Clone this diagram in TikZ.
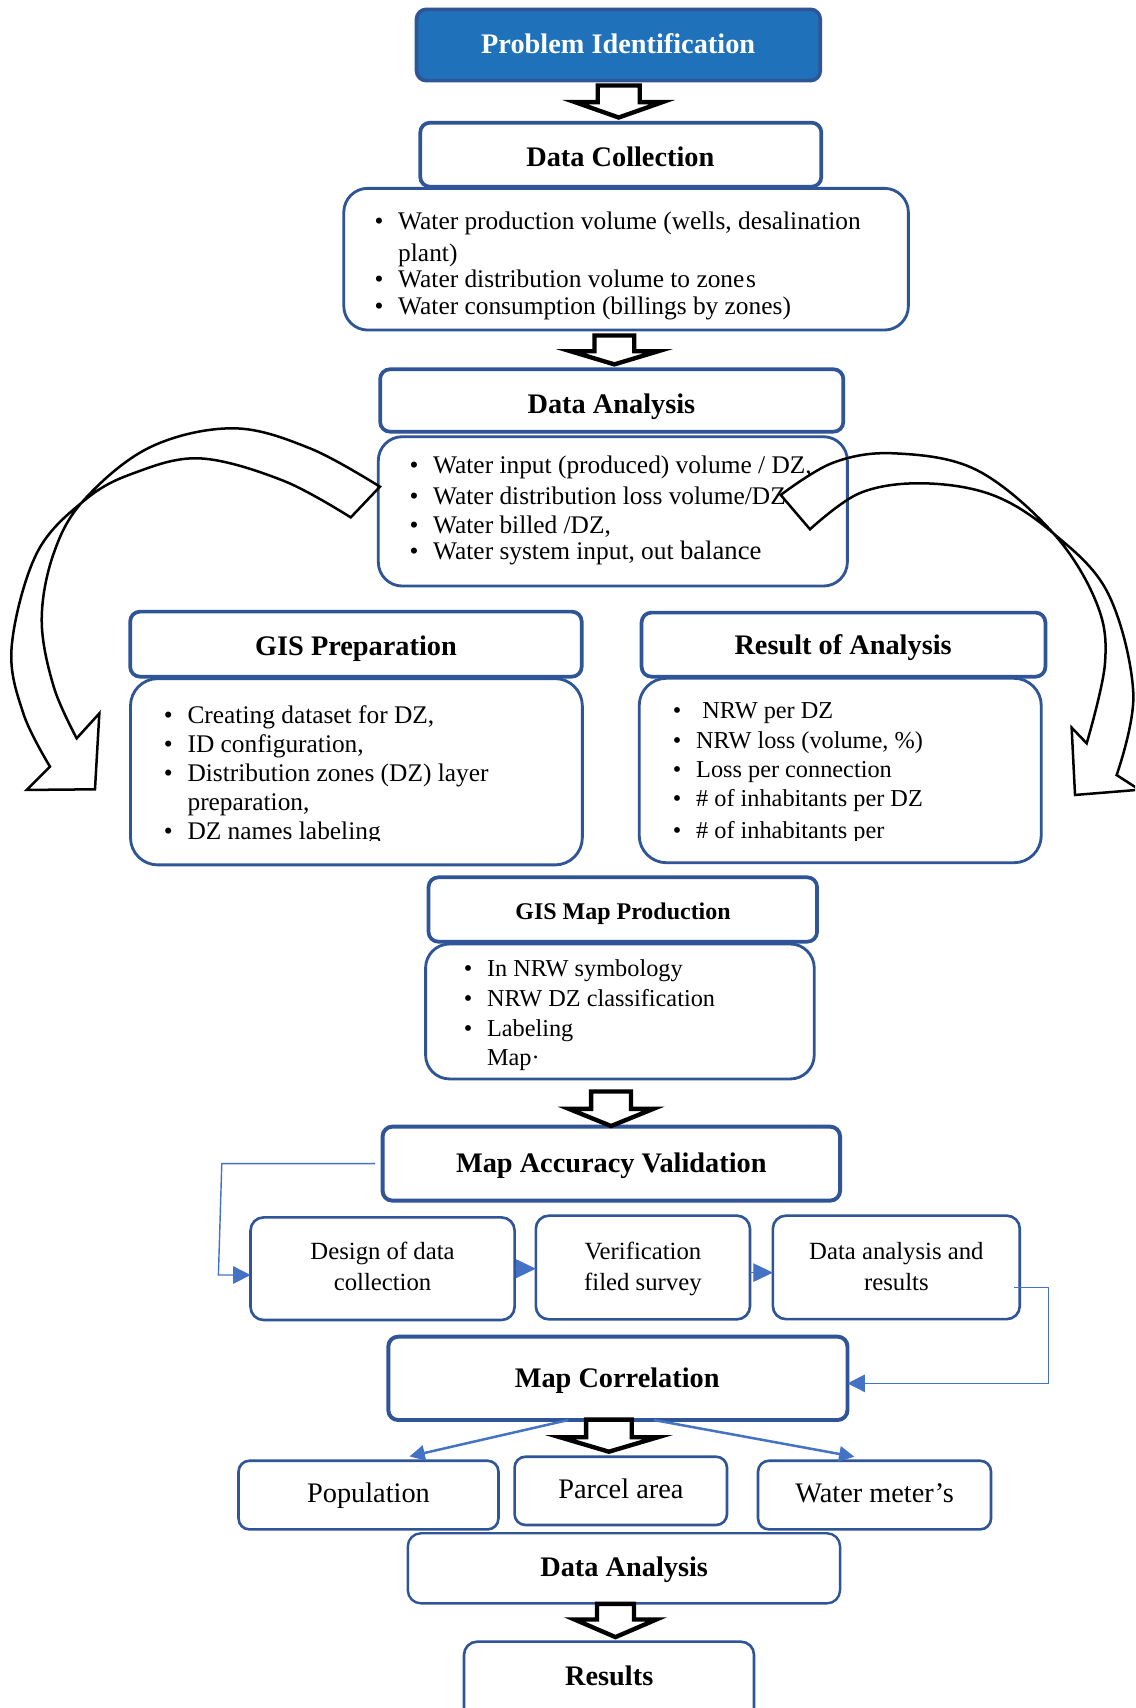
\documentclass[tikz,border=0pt]{standalone}
\usepackage{fontspec}
\setmainfont{Liberation Serif}
\usetikzlibrary{arrows.meta}
\definecolor{bdr}{HTML}{2F5597}
\definecolor{pifill}{HTML}{1F72B9}
\definecolor{conn}{HTML}{4472C4}
\newcommand\fsz[1]{\fontsize{#1}{#1}\selectfont}
\newcommand\bl{\llap{\textbullet\hspace{13.5pt}}}
\newcommand\bx[6]{\node[#6, minimum width={(#4)-(#2)}, minimum height={(#5)-(#3)}] (#1) at ({((#2)+(#4))/2},{((#3)+(#5))/2}) {};}
\newcommand\barrow[8]{%
  \path (#3,0 |- #1.south) ++(0,#4) coordinate (bt);
  \path (#3,0 |- #2.north) ++(0,#5) coordinate (bp);
  \path (bp) ++(0,-#6) coordinate (bh);
  \draw[blk] (bp) -- ([xshift=#8pt]bh) -- ([xshift=#7pt]bh) -- ([xshift=#7pt]bt) -- ([xshift=-#7pt]bt) -- ([xshift=-#7pt]bh) -- ([xshift=-#8pt]bh) -- cycle;}
\begin{document}
\begin{tikzpicture}[x=1pt,y=-1pt,
  hdrbox/.style={draw=bdr, line width=3.4pt, rounded corners=9pt, fill=white, inner sep=0pt, outer sep=0pt},
  cntbox/.style={draw=bdr, line width=2.6pt, rounded corners=22pt, fill=white, inner sep=0pt, outer sep=0pt},
  lowbox/.style={draw=bdr, line width=2.4pt, rounded corners=12pt, fill=white, inner sep=0pt, outer sep=0pt},
  blk/.style={draw=black, line width=4pt, line join=miter, fill=white},
  curv/.style={draw=black, line width=2.3pt, line join=miter},
  tl/.style={anchor=base west, inner sep=0pt, outer sep=0pt},
  tc/.style={anchor=base, inner sep=0pt, outer sep=0pt},
  hf/.style={font=\fsz{26}\bfseries},
  connline/.style={draw=conn, line width=1.3pt, -{Triangle[length=16pt,width=16pt]}},
  connthick/.style={draw=conn, line width=2.3pt, -{Triangle[length=14pt,width=14pt]}},
]
\path[use as bounding box] (0,0) rectangle (1042,1568);
\clip (0,0) rectangle (1042,1568);
\fill[white] (0,0) rectangle (1042,1568);

% ---------- boxes ----------
\bx{pi}{382.4}{8.6}{753}{74}{hdrbox, fill=pifill}
\bx{dcc}{315.6}{172.9}{833.9}{303}{cntbox}
\bx{dc}{385.8}{112.6}{754}{171.4}{hdrbox}
\bx{dac}{347.3}{400.9}{777.9}{538}{cntbox}
\bx{da}{349}{339}{774.2}{396.3}{hdrbox}
\bx{gpc}{119.8}{623}{534.6}{794}{cntbox, rounded corners=25pt}
\bx{gp}{119.5}{561.5}{534}{621.2}{hdrbox}
\bx{rac}{586.8}{622.7}{955.9}{792}{cntbox, rounded corners=25pt}
\bx{ra}{589}{562.4}{959.7}{621.2}{hdrbox}
\bx{gmc}{390.7}{866.6}{747.5}{990.5}{cntbox}
\bx{gm}{393.4}{805.4}{750.1}{864.5}{hdrbox}
\bx{mav}{351.2}{1034.3}{771.2}{1102.2}{hdrbox, line width=3.6pt}
\bx{d1}{230}{1117.6}{472.4}{1211.8}{lowbox}
\bx{d2}{491.9}{1116}{688.5}{1211.2}{lowbox}
\bx{d3}{709.5}{1116}{936.2}{1211}{lowbox}
\bx{mc}{356.5}{1227.1}{778}{1303.6}{hdrbox, line width=3.6pt}
\bx{pop}{219}{1341}{457.6}{1404}{lowbox, rounded corners=10pt}
\bx{pa}{472.4}{1337.3}{667.4}{1400}{lowbox, rounded corners=10pt}
\bx{wm}{695.9}{1341}{909.8}{1404}{lowbox, rounded corners=10pt}
\bx{dab}{374.4}{1407.6}{771.2}{1471.9}{lowbox, line width=2.2pt}
\bx{res}{426}{1507.1}{692.2}{1600}{lowbox}

% ---------- header texts ----------
\node[tc, hf, text=white] (tpi) at (567.5,49) {Problem Identification};
\node[tc, hf] (tdc) at (569.5,153) {Data Collection};
\node[tc, hf] (tda) at (561.3,379.4) {Data Analysis};
\node[tc, hf] (tgp) at (326.8,602.2) {GIS Preparation};
\node[tc, hf] (tra) at (774,601.3) {Result of Analysis};
\node[tc, font=\fsz{22}\bfseries] (tgm) at (572,844) {GIS Map Production};
\node[tc, hf] (tmav) at (561.2,1076.5) {Map Accuracy Validation};
\node[tc, hf] (tmc) at (566.6,1273.8) {Map Correlation};
\node[tc, hf] (tdab) at (573,1447.6) {Data Analysis};
\node[tc, hf] (tres) at (559.3,1547) {Results};

% ---------- bullet texts ----------
\begin{scope}[every node/.style={tl, font=\fsz{23.3}}]
\node (dc1) at (365.6,211) {\bl Water production volume (wells, desalination};
\node (dc2) at (365.6,240) {plant)};
\node (dc3) at (365.6,263.8) {\bl Water distribution volume to zone\hspace{1.5pt}s};
\node (dc4) at (365.6,288.3) {\bl Water consumption (billings by zones)};
\node (da1) at (397.7,435) {\bl Water input (produced) volume / DZ,};
\node (da2) at (397.7,463) {\bl Water distribution loss volume/DZ};
\node (da3) at (397.7,489.5) {\bl Water billed /DZ,};
\node (da4) at (397.7,514) {\bl Water system input, out {\fsz{24.5}balance}};
\node (gp1) at (172.2,664) {\bl Creating dataset for DZ,};
\node (gp2) at (172.2,690.5) {\bl ID configuration,};
\node (gp3) at (172.2,717) {\bl Distribution zones (DZ) layer};
\node (gp4) at (172.2,743.6) {preparation,};
\end{scope}
\begin{scope}
\clip (100,600) rectangle (1000,772);
\node[tl, font=\fsz{23.3}] (gp5) at (172.2,770.5) {\bl DZ names labeling};
\node[tl, font=\fsz{22.3}] (ra5) at (639.1,769.6) {\bl \# of inhabitants per};
\end{scope}
\begin{scope}[every node/.style={tl, font=\fsz{22.3}}]
\node (ra1) at (639.1,659.5) {\bl\hspace{5.7pt}NRW per DZ};
\node (ra2) at (639.1,687) {\bl NRW loss (volume, \%)};
\node (ra3) at (639.1,713.6) {\bl Loss per connection};
\node (ra4) at (639.1,740.5) {\bl \# of inhabitants per DZ};
\node (gm1) at (447.1,896.6) {\bl In NRW symbology};
\node (gm2) at (447.1,924.1) {\bl NRW DZ classification};
\node (gm3) at (447.1,951.7) {\bl Labeling};
\node (gm4) at (447.1,978) {Map·};
\end{scope}

% ---------- lower texts ----------
\begin{scope}[every node/.style={tc, font=\fsz{22.7}}]
\node (d1a) at (351.2,1155.8) {Design of data};
\node (d1b) at (351.2,1184.3) {collection};
\node (d2a) at (590.2,1156.5) {Verification};
\node (d2b) at (590.2,1184.3) {filed survey};
\node (d3a) at (822.9,1156.5) {Data analysis and};
\node (d3b) at (822.9,1184.3) {results};
\end{scope}
\begin{scope}[every node/.style={tc, font=\fsz{26}}]
\node (tpop) at (338.3,1379.5) {Population};
\node (tpa) at (570,1376.1) {Parcel area};
\node (twm) at (802.9,1379.5) {Water meter’s};
\end{scope}

% ---------- block arrows ----------
\barrow{pi}{dc}{568}{4.5}{-4.7}{14.1}{19.3}{40}
\barrow{dcc}{da}{564}{5}{-4.5}{12}{18.2}{40}
\barrow{gmc}{mav}{561}{11.5}{-0.6}{15.7}{18.3}{38.7}
\barrow{mc}{pa}{559}{-0.4}{-4.6}{13.3}{20.9}{45}
\barrow{dab}{res}{565}{0.5}{-4.2}{16.1}{17}{37.4}

% ---------- blue connectors ----------
\draw[connline] ([xshift=-7pt]mav.west) -- (203.6,1068.25) -- (200.5,1170.5) -- ([yshift=-5.8pt]d1.west);
\draw[connline, -{Triangle[length=18pt,width=17pt]}] (d1.east) -- (d1.east -| d2.west);
\draw[connline, -{Triangle[length=18pt,width=17pt]}] ([yshift=-4.7pt]d2.east) -- ([yshift=-4.7pt]d2.east -| d3.west);
\draw[connline] ([xshift=-5pt,yshift=-18.3pt]d3.east) -- ++(31.3,0) |- ([yshift=-4.6pt]mc.east);
\draw[connthick] ([xshift=-45.5pt]mc.south) -- ([xshift=37.7pt,yshift=4pt]pop.north);
\draw[connthick] ([xshift=33pt]mc.south) -- ([xshift=-18.5pt,yshift=3.7pt]wm.north);

% ---------- curved arrows ----------
\draw[curv] plot[smooth, tension=0.6] coordinates {(348.8,446.8) (284.6,411.6) (214.2,393.2) (137.7,410.6) (77.1,459) (49.3,508) (38.3,569.2) (49.3,630.4) (70.4,677.8)}
  -- (91.2,654.9) -- (87.2,724.6) -- (24.5,725.2) -- (45.9,703.8)
  -- plot[smooth, tension=0.6] coordinates {(45.9,703.8) (21.4,654.9) (10.7,593.7) (33.7,508) (78,459) (122.4,434.5) (183.6,420.8) (260.1,441.3) (322,475)}
  -- cycle;
\draw[curv] plot[smooth, tension=0.6] coordinates {(716.7,454.4) (765,424.7) (821.6,416.2) (896.6,431.5) (967,489.6) (1006.8,553.9) (1014.4,609) (997.6,682.4)}
  -- (983.8,668) -- (986.9,729.8) -- (1046,725) -- (1025.1,711.5)
  -- plot[smooth, tension=0.6] coordinates {(1025.1,711.5) (1040.4,636.5) (1017.2,544.7) (967,489.6) (911.9,454.7) (847.6,443.7) (789.5,452.6) (743.6,485.9)}
  -- cycle;
\end{tikzpicture}
\end{document}
